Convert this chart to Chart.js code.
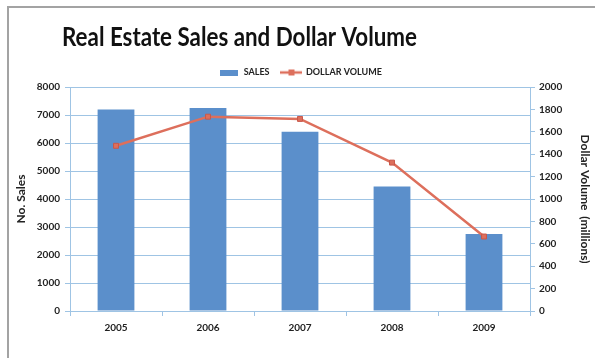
<!DOCTYPE html>
<html>
<head>
<meta charset="utf-8">
<script src="https://cdn.jsdelivr.net/npm/chart.js@4"></script>
<style>
  html, body { margin: 0; padding: 0; background: #fff; }
  #wrap { position: relative; width: 595px; height: 358px; overflow: hidden; }
  #frame {
    position: absolute; left: 7px; top: 6px; right: -10px; bottom: -10px;
    border-left: 2px solid #a3a3a3; border-top: 2px solid #a3a3a3;
  }
  canvas { position: absolute; left: 0; top: 0; }
</style>
</head>
<body>
<div id="wrap">
  <div id="frame"></div>
  <canvas id="salesChart" width="595" height="358"></canvas>
</div>
<script>
const years = ["2005", "2006", "2007", "2008", "2009"];
const sales = [7200, 7250, 6400, 4450, 2750];
const dollarVolume = [1475, 1735, 1715, 1325, 665];
const salesTicks = [0, 1000, 2000, 3000, 4000, 5000, 6000, 7000, 8000];
const volumeTicks = [0, 200, 400, 600, 800, 1000, 1200, 1400, 1600, 1800, 2000];

const BLUE = "#5b8fcb";
const RED = "#dd6f5c";
const GRID = "#9fc4e4";
const FONT = "Lato, 'Open Sans', sans-serif";
const TITLE = "Real Estate Sales and Dollar Volume";

// little legend swatches: a flat bar and a line with a square marker
function swatchBar() {
  const c = document.createElement("canvas");
  c.width = 18; c.height = 6;
  const g = c.getContext("2d");
  g.fillStyle = BLUE;
  g.fillRect(0, 0, 18, 6);
  return c;
}
function swatchLine() {
  const c = document.createElement("canvas");
  c.width = 22; c.height = 8;
  const g = c.getContext("2d");
  g.strokeStyle = RED;
  g.lineWidth = 2.5;
  g.beginPath(); g.moveTo(0, 4); g.lineTo(22, 4); g.stroke();
  g.fillStyle = RED;
  g.fillRect(8, 1, 6, 6);
  return c;
}

// the heading sits left of centre and is squeezed a little to read narrow
const titlePlugin = {
  id: "leftTitle",
  afterDraw(chart) {
    const ctx = chart.ctx;
    ctx.save();
    ctx.font = "bold 26px " + FONT;
    ctx.fillStyle = "#111";
    ctx.textBaseline = "alphabetic";
    const w = ctx.measureText(TITLE).width;
    ctx.translate(62, 46);
    ctx.scale(355 / w, 1);
    ctx.fillText(TITLE, 0, 0);
    ctx.restore();
  }
};

const tickFont = { family: FONT, size: 10, weight: "bold" };
const plain = v => String(v);

new Chart(document.getElementById("salesChart"), {
  data: {
    labels: years,
    datasets: [
      {
        type: "line",
        label: "DOLLAR VOLUME",
        data: dollarVolume,
        yAxisID: "yVolume",
        borderColor: RED,
        backgroundColor: RED,
        borderWidth: 2.5,
        pointStyle: "rect",
        pointRadius: 3.5,
        pointBorderColor: "#c9584a",
        pointBorderWidth: 1,
        tension: 0,
        order: 0
      },
      {
        type: "bar",
        label: "SALES",
        data: sales,
        yAxisID: "ySales",
        backgroundColor: BLUE,
        borderWidth: 0,
        categoryPercentage: 1,
        barPercentage: 0.4,
        order: 1
      }
    ]
  },
  options: {
    responsive: false,
    animation: false,
    layout: { padding: { top: 56, left: 6, right: 0, bottom: 0 } },
    plugins: {
      tooltip: { enabled: false },
      legend: {
        position: "top",
        labels: {
          usePointStyle: true,
          pointStyleWidth: 20,
          padding: 12,
          color: "#222",
          font: { family: FONT, size: 9, weight: "bold" },
          generateLabels(chart) {
            return chart.data.datasets.map((ds, i) => ({
              text: ds.label,
              datasetIndex: i,
              pointStyle: ds.type === "bar" ? swatchBar() : swatchLine(),
              fillStyle: ds.backgroundColor,
              strokeStyle: ds.backgroundColor,
              lineWidth: 0,
              fontColor: "#222"
            })).reverse();
          }
        }
      }
    },
    scales: {
      x: {
        offset: true,
        grid: { offset: true, drawOnChartArea: false, tickLength: 5, color: GRID },
        border: { color: GRID },
        ticks: { color: "#222", padding: 6, font: tickFont },
        afterFit(scale) { scale.height = 47; }
      },
      ySales: {
        position: "left",
        min: 0, max: 8000,
        afterBuildTicks(scale) { scale.ticks = salesTicks.map(v => ({ value: v })); },
        grid: { color: GRID, tickLength: 5 },
        border: { color: GRID },
        ticks: { color: "#222", padding: 5, font: tickFont, callback: plain },
        title: {
          display: true, text: "No. Sales", color: "#222", padding: { top: 8, bottom: 0 },
          font: { family: FONT, size: 12, weight: "bold" }
        },
        afterFit(scale) { scale.width = 64; }
      },
      yVolume: {
        position: "right",
        min: 0, max: 2000,
        afterBuildTicks(scale) { scale.ticks = volumeTicks.map(v => ({ value: v })); },
        grid: { drawOnChartArea: false, color: GRID, tickLength: 5 },
        border: { color: GRID },
        ticks: { color: "#222", padding: 4, font: tickFont, callback: plain },
        title: {
          display: true, text: "Dollar Volume  (millions)", color: "#222", padding: { top: 3, bottom: 0 },
          font: { family: FONT, size: 12, weight: "bold" }
        },
        afterFit(scale) { scale.width = 65; }
      }
    }
  },
  plugins: [titlePlugin]
});
</script>
</body>
</html>
